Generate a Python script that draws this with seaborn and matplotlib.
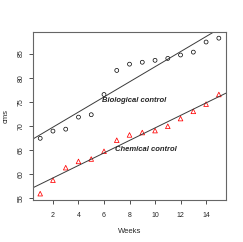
import numpy as np
import pandas as pd
import matplotlib
matplotlib.use("Agg")
import matplotlib.pyplot as plt
import seaborn as sns

weeks = list(range(1, 16))
biological = [67.4, 68.9, 69.3, 71.8, 72.3, 76.5, 81.5, 82.8, 83.2, 83.6, 84.0, 84.7, 85.3, 87.4, 88.2]
chemical = [55.9, 58.7, 61.3, 62.6, 63.1, 64.7, 67.0, 68.1, 68.6, 69.0, 69.9, 71.5, 73.0, 74.5, 76.5]
xticks = [2, 4, 6, 8, 10, 12, 14]
yticks = [55, 60, 65, 70, 75, 80, 85]

df = pd.DataFrame({"Weeks": weeks, "Biological": biological, "Chemical": chemical})

sns.set_style("white")
plt.rcParams['font.family'] = ['Liberation Sans', 'DejaVu Sans']

fig = plt.figure(figsize=(2.43, 2.42), dpi=100)
ax = fig.add_axes([0.136, 0.174, 0.794, 0.694])

x0, x1 = min(weeks), max(weeks)
xr = (x1 - x0) * 0.04
allv = biological + chemical
y0, y1 = min(allv), max(allv)
yr = (y1 - y0) * 0.04
ax.set_xlim(x0 - xr, x1 + xr)
ax.set_ylim(y0 - yr, y1 + yr)

sns.scatterplot(data=df, x="Weeks", y="Biological", ax=ax, marker="o", s=8,
                facecolor="none", edgecolor="black", linewidth=0.5)
sns.scatterplot(data=df, x="Weeks", y="Chemical", ax=ax, marker="^", s=11,
                facecolor="none", edgecolor="red", linewidth=0.55)
sns.regplot(data=df, x="Weeks", y="Biological", ax=ax, scatter=False, ci=None,
            truncate=False, line_kws=dict(color="#3a3a3a", lw=0.7))
sns.regplot(data=df, x="Weeks", y="Chemical", ax=ax, scatter=False, ci=None,
            truncate=False, line_kws=dict(color="#3a3a3a", lw=0.7))
ax.set_xlim(x0 - xr, x1 + xr)
ax.set_ylim(y0 - yr, y1 + yr)

ax.text(5.84, 75.15, "Biological control", fontsize=5.5, fontweight="bold",
        fontstyle="italic", va="center", ha="left")
ax.text(6.86, 65.0, "Chemical control", fontsize=5.5, fontweight="bold",
        fontstyle="italic", va="center", ha="left")

ax.set_xticks(xticks)
ax.set_yticks(yticks)
ax.set_xticklabels([str(t) for t in xticks], fontsize=5)
ax.set_yticklabels([str(t) for t in yticks], fontsize=5, rotation=90, va="center")
ax.tick_params(axis="both", direction="out", length=3, width=0.6, color="#333333",
               bottom=True, left=True)
ax.tick_params(axis="x", pad=6)
ax.tick_params(axis="y", pad=3)
for s in ax.spines.values():
    s.set_visible(True)
    s.set_color("#666666")
    s.set_linewidth(0.8)
ax.set_xlabel("Weeks", fontsize=5.5)
ax.set_ylabel("cms", fontsize=5.5)
ax.xaxis.set_label_coords(0.5, -0.17)
ax.yaxis.set_label_coords(-0.12, 0.5)

fig.savefig("out.png", dpi=100)
